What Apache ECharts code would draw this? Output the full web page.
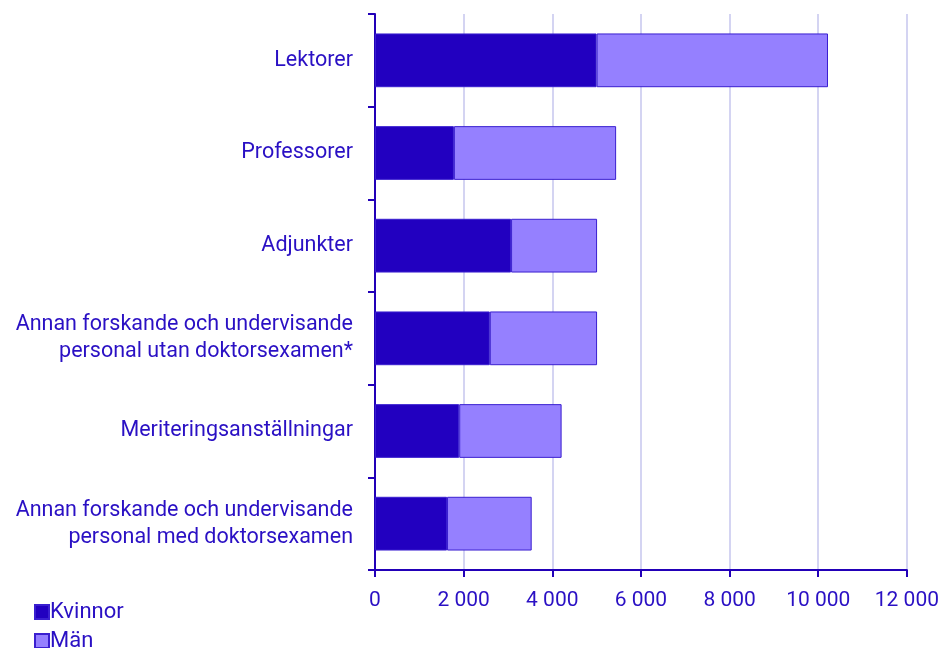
<!DOCTYPE html>
<html>
<head>
<meta charset="utf-8">
<script src="https://cdn.jsdelivr.net/npm/echarts@6/dist/echarts.min.js"></script>
<style>
  html, body { margin: 0; padding: 0; background: #fff; }
  #chart { width: 942px; height: 648px; }
</style>
</head>
<body>
<div id="chart"></div>
<script>
// personal categories, top to bottom
const categories = [
  'Lektorer',
  'Professorer',
  'Adjunkter',
  'Annan forskande och undervisande\npersonal utan doktorsexamen*',
  'Meriteringsanställningar',
  'Annan forskande och undervisande\npersonal med doktorsexamen'
]
const kvinnor = [5000, 1780, 3070, 2590, 1900, 1625]
const man = [5220, 3660, 1940, 2420, 2310, 1910]
const xTicks = [0, 2000, 4000, 6000, 8000, 10000, 12000]

const textColor = '#2a10c4'
const axisColor = '#2200b8'

const fmt = v => String(v).replace(/\B(?=(\d{3})+(?!\d))/g, ' ')

// one legend box per item, stacked vertically
const legendItem = (name, top) => ({
  left: 34,
  top: top,
  padding: 0,
  itemWidth: 14,
  itemHeight: 14,
  icon: 'rect',
  textStyle: { color: textColor, fontSize: 22, lineHeight: 22, padding: [0, 0, 0, -4] },
  data: [name]
})

const chart = echarts.init(document.getElementById('chart'))
chart.setOption({
  animation: false,
  textStyle: { fontFamily: 'Roboto' },
  grid: {
    left: 375,
    right: 35,
    top: 14,
    bottom: 78
  },
  legend: [legendItem('Kvinnor', 601), legendItem('Män', 630)],
  xAxis: {
    type: 'value',
    min: xTicks[0],
    max: xTicks[xTicks.length - 1],
    interval: 2000,
    axisLine: { show: true, lineStyle: { color: axisColor, width: 2 } },
    axisTick: { show: true, length: 7, lineStyle: { color: axisColor, width: 2 } },
    axisLabel: {
      color: textColor,
      fontSize: 21,
      margin: 20,
      formatter: fmt
    },
    splitLine: { show: true, lineStyle: { color: '#d4d4f2', width: 2 } }
  },
  yAxis: {
    type: 'category',
    inverse: true,
    data: categories,
    axisLine: { show: true, lineStyle: { color: axisColor, width: 2 } },
    axisTick: { show: true, length: 7, lineStyle: { color: axisColor, width: 2 } },
    axisLabel: {
      color: textColor,
      fontSize: 21.5,
      lineHeight: 27,
      margin: 22
    }
  },
  series: [
    {
      name: 'Kvinnor',
      type: 'bar',
      stack: 'total',
      barCategoryGap: '42%',
      data: kvinnor,
      itemStyle: { color: '#2200c0', borderColor: '#3a1fd0', borderWidth: 1 }
    },
    {
      name: 'Män',
      type: 'bar',
      stack: 'total',
      barCategoryGap: '42%',
      data: man,
      itemStyle: { color: '#9580ff', borderColor: '#3a1fd0', borderWidth: 1 }
    }
  ]
})
</script>
</body>
</html>
